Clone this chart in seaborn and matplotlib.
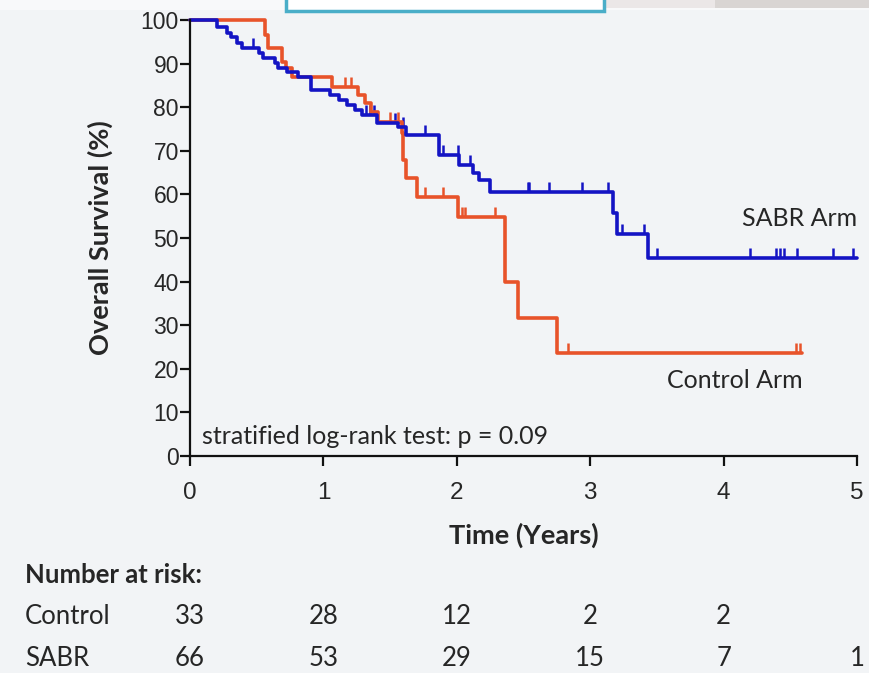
import numpy as np
import matplotlib
matplotlib.use("Agg")
import matplotlib.pyplot as plt
import matplotlib.transforms as mtransforms
from matplotlib.patches import Rectangle
import seaborn as sns

sns.set_style("ticks")
plt.rcParams['font.family'] = ['Lato', 'DejaVu Sans']

# Kaplan-Meier steps (time in years, survival %)
control_t = [0, 0.56, 0.585, 0.69, 0.72, 0.765, 1.065, 1.26, 1.31, 1.36, 1.41,
             1.59, 1.60, 1.62, 1.70, 2.01, 2.36, 2.46, 2.75, 4.59]
control_s = [100, 96.5, 93.6, 90.4, 89, 87, 84.6, 82.8, 81, 78.8, 76.6,
             74, 68, 63.8, 59.4, 54.8, 40, 31.7, 23.6, 23.6]
control_cens = [1.16, 1.21, 1.50, 1.56, 1.76, 1.90, 2.04, 2.06, 2.29, 2.83, 4.54, 4.57]

sabr_t = [0, 0.20, 0.28, 0.31, 0.35, 0.39, 0.52, 0.55, 0.64, 0.66, 0.73, 0.81,
          0.91, 1.05, 1.12, 1.18, 1.24, 1.29, 1.40, 1.56, 1.62, 1.87, 2.02,
          2.12, 2.17, 2.25, 3.17, 3.20, 3.43, 5.0]
sabr_s = [100, 98.5, 97, 96, 94.7, 93.6, 92.4, 91.3, 90.1, 89, 88, 87,
          84, 82.8, 81.7, 80.5, 79.4, 78.2, 76.4, 75.5, 73.6, 69, 66.7,
          65, 63.3, 60.6, 55.7, 51, 45.4, 45.4]
sabr_cens = [0.47, 1.32, 1.35, 1.38, 1.54, 1.60, 1.76, 1.90, 2.01, 2.10, 2.53, 2.54,
             2.69, 2.94, 3.13, 3.24, 3.40, 3.50, 4.20, 4.39, 4.42, 4.45, 4.55, 4.82, 4.97]

# number at risk
risk_times = [0, 1, 2, 3, 4, 5]
risk_control = [33, 28, 12, 2, 2]
risk_sabr = [66, 53, 29, 15, 7, 1]

RED = '#e8532a'
BLUE = '#1414c4'
TXT = '#262626'
BG = '#f2f4f6'
FS = 18


def step_value(ts, ss, c):
    i = np.searchsorted(ts, c, side='right') - 1
    return ss[i]


fig = plt.figure(figsize=(8.69, 6.73), dpi=100, facecolor=BG)
ax = fig.add_axes([190/869, 1 - 456/673, (857-190)/869, (456-20)/673])
ax.set_facecolor(BG)

sns.lineplot(x=control_t, y=control_s, drawstyle='steps-post', color=RED,
             linewidth=2.6, estimator=None, ax=ax, clip_on=False)
sns.lineplot(x=sabr_t, y=sabr_s, drawstyle='steps-post', color=BLUE,
             linewidth=2.6, estimator=None, ax=ax, clip_on=False)

c_y = [step_value(control_t, control_s, c) for c in control_cens]
s_y = [step_value(sabr_t, sabr_s, c) for c in sabr_cens]
sns.scatterplot(x=control_cens, y=c_y, marker=2, s=55, color=RED,
                linewidth=1.8, ax=ax, clip_on=False)
sns.scatterplot(x=sabr_cens, y=s_y, marker=2, s=55, color=BLUE,
                linewidth=1.8, ax=ax, clip_on=False)

tick_font = ['Liberation Sans', 'DejaVu Sans']
ax.set_xlim(0, 5)
ax.set_ylim(0, 100)
ax.set_xticks(range(0, 6))
ax.set_yticks(range(0, 101, 10))
ax.set_xticklabels([str(i) for i in range(6)], fontsize=17.5,
                   family=tick_font, color=TXT)
ax.set_yticklabels([str(i) for i in range(0, 101, 10)], fontsize=16.5,
                   family=tick_font, color=TXT)
ax.tick_params(axis='both', length=7, width=1.6, color='#111111', direction='out')
ax.tick_params(axis='x', pad=12)
ax.tick_params(axis='y', pad=1)
sns.despine(ax=ax)
for sp in ['left', 'bottom']:
    ax.spines[sp].set_linewidth(1.6)
    ax.spines[sp].set_color('#111111')

ax.set_xlabel('Time (Years)', fontsize=19.5, fontweight='bold', color=TXT, labelpad=13)
ax.set_ylabel('Overall Survival (%)', fontsize=19.5, fontweight='bold', color=TXT, labelpad=20)

ax.text(0.09, 4.4, 'stratified log-rank test: p = 0.09', fontsize=FS,
        color=TXT, va='center', ha='left')
ax.text(5.0, 54.5, 'SABR Arm', fontsize=FS, color=TXT, va='center', ha='right')
ax.text(4.59, 17.3, 'Control Arm', fontsize=FS, color=TXT, va='center', ha='right')

# number at risk table
tr = mtransforms.blended_transform_factory(ax.transData, fig.transFigure)
fig.text(25/869, 1 - 575/673, 'Number at risk:', fontsize=FS + 0.5, fontweight='bold',
         color=TXT, va='center', ha='left')
fig.text(25/869, 1 - 616/673, 'Control', fontsize=FS + 0.5, color=TXT, va='center', ha='left')
fig.text(25/869, 1 - 658/673, 'SABR', fontsize=FS + 0.5, color=TXT, va='center', ha='left')
for t, n in zip(risk_times, risk_control):
    ax.text(t, 1 - 616/673, str(n), transform=tr, fontsize=FS + 0.5, color=TXT,
            va='center', ha='center', clip_on=False)
for t, n in zip(risk_times, risk_sabr):
    ax.text(t, 1 - 658/673, str(n), transform=tr, fontsize=FS + 0.5, color=TXT,
            va='center', ha='center', clip_on=False)

# photo frame bits at the top
fig.patches.append(Rectangle((0, 1 - 10/673), 1, 10/673, transform=fig.transFigure,
                             facecolor='#f8f9fa', edgecolor='none', zorder=0))
fig.patches.append(Rectangle((605/869, 1 - 8/673), 110/869, 8/673, transform=fig.transFigure,
                             facecolor='#ebe7e7', edgecolor='none', zorder=0))
fig.patches.append(Rectangle((715/869, 1 - 8/673), 154/869, 8/673, transform=fig.transFigure,
                             facecolor='#d9d5d3', edgecolor='none', zorder=0))
fig.patches.append(Rectangle((286/869, 1 - 11/673), 318/869, 14/673, transform=fig.transFigure,
                             facecolor='white', edgecolor='#4aaec8', linewidth=2.5, zorder=1))

fig.savefig('out.png', dpi=100, facecolor=BG)
